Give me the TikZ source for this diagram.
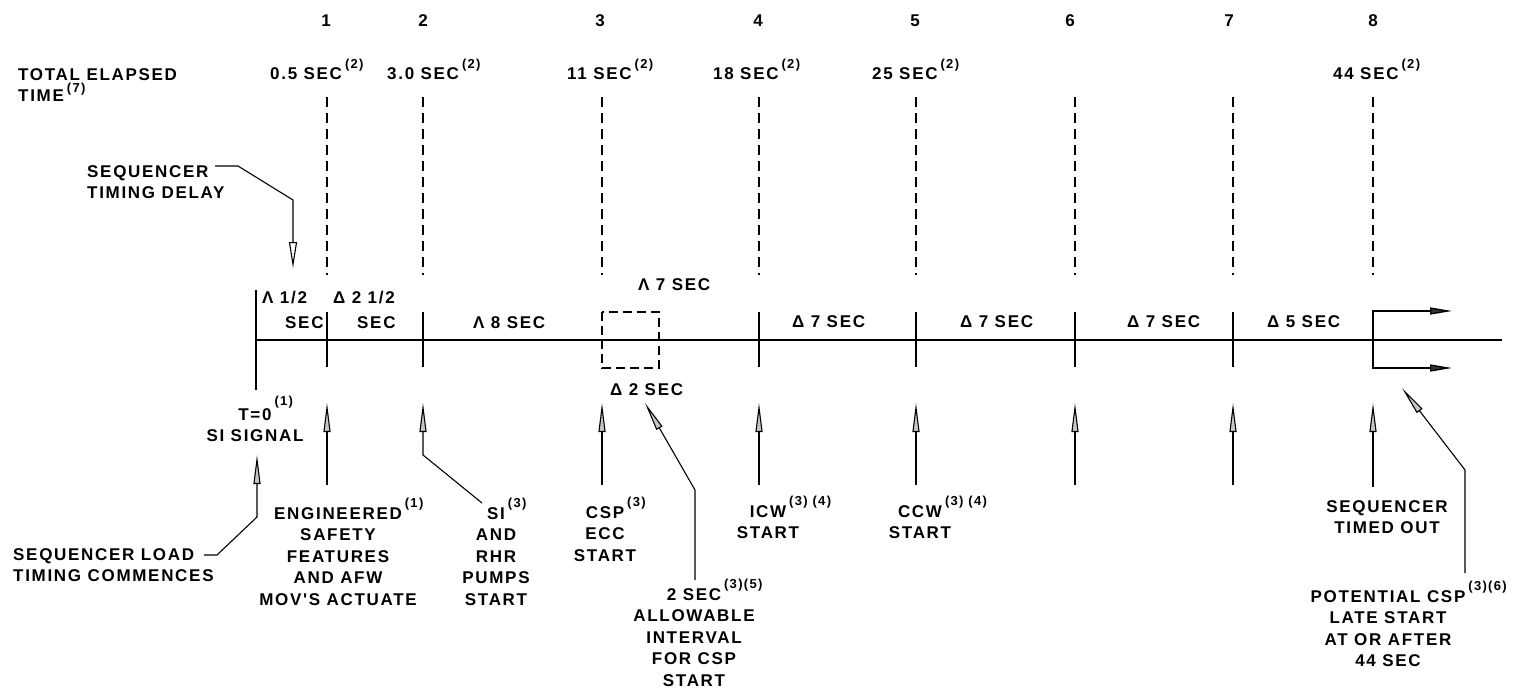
\documentclass[tikz,border=0pt]{standalone}
\usepackage{fontspec}
\newfontfamily\lbl[LetterSpace=10]{Liberation Sans}
\usetikzlibrary{arrows.meta}
\newcommand\lblfont{\lbl\bfseries\fontsize{17}{21.5}\selectfont}
\newcommand\sups[2][12pt]{\smash{\rlap{\kern3pt\raisebox{#1}{\fontsize{13}{13}\selectfont #2}}}}
\tikzset{
  txt/.style={font=\lblfont,inner sep=0pt,anchor=base west},
  num/.style={font=\lblfont,inner sep=0pt,anchor=base},
  blk/.style={font=\lblfont,inner sep=0pt,align=center,anchor=north},
  blkl/.style={font=\lblfont,inner sep=0pt,align=left,anchor=north west},
  evdash/.style={line width=1.1pt,dash pattern=on 10pt off 6pt},
  boxdash/.style={line width=1.1pt,dash pattern=on 9pt off 5pt},
  tick/.style={line width=1.3pt},
  axis/.style={line width=1.5pt},
  lead/.style={line width=1.1pt},
  uparrow/.style={line width=1.1pt,-{Triangle[length=29pt,width=7pt,fill=gray!45]}},
  downarrow/.style={line width=1.1pt,-{Triangle[open,length=26pt,width=8pt]}},
  outarrow/.style={line width=1.3pt,-{Triangle[length=22pt,width=7pt,fill=black!80]}}
}
\begin{document}
\begin{tikzpicture}[x=1pt,y=-1pt]
\useasboundingbox (0,0) rectangle (1520,693);

% event numbers
\foreach \x/\n in {326/1,423/2,600/3,758/4,915/5,1070/6,1229/7,1373/8}
  \node[num] (num\n) at (\x,27) {\n};

% left titles
\node[blkl] (total) at (18,68) {TOTAL ELAPSED\\TIME\sups[9pt]{(7)}};
\node[blkl] (seqdelay) at (87,165) {SEQUENCER\\TIMING DELAY};

% elapsed times
\node[txt] (el1) at (270,80) {0.5 SEC\sups{(2)}};
\node[txt] (el2) at (387,80) {3.0 SEC\sups{(2)}};
\node[txt] (el3) at (567,80) {11 SEC\sups{(2)}};
\node[txt] (el4) at (713,80) {18 SEC\sups{(2)}};
\node[txt] (el5) at (872,80) {25 SEC\sups{(2)}};
\node[txt] (el8) at (1333,80) {44 SEC\sups{(2)}};

% dashed event lines
\foreach \x/\n in {327/1,423/2,602/3,759/4,916/5,1075/6,1233/7,1373/8}{
  \coordinate (d\n a) at (\x,97);
  \coordinate (d\n b) at (\x,275);
  \draw[evdash] (d\n a) -- (d\n b);
}

% timeline
\coordinate (t0) at (256,340);
\coordinate (tend) at (1502,340);
\draw[axis] (t0) -- (tend);
\draw[tick] (256,290) -- (256,390);
\foreach \x in {327,423,759,916,1075,1233}
  \draw[tick] (\x,312) -- (\x,367);
\draw[boxdash] (602,312) rectangle (659,368);
\coordinate (b8) at (1373,340);
\coordinate (o8a) at (1452,311);
\coordinate (o8b) at (1452,368);
\draw[outarrow] (b8) |- (o8a);
\draw[outarrow] (b8) |- (o8b);

% interval labels
\node[txt] (iv1a) at (262,303) {Λ 1/2};
\node[txt] (iv1b) at (285,328) {SEC};
\node[txt] (iv2a) at (333,303) {Δ 2 1/2};
\node[txt] (iv2b) at (357,328) {SEC};
\node[txt] (iv3) at (473,328) {Λ 8 SEC};
\node[txt] (iv4) at (638,290) {Λ 7 SEC};
\node[txt] (iv4b) at (610,395) {Δ 2 SEC};
\node[txt] (iv5) at (792,327) {Δ 7 SEC};
\node[txt] (iv6) at (960,327) {Δ 7 SEC};
\node[txt] (iv7) at (1127,327) {Δ 7 SEC};
\node[txt] (iv8) at (1267,327) {Δ 5 SEC};

% sequencer timing delay leader
\coordinate (sd0) at (215,166);
\coordinate (sd1) at (293,268);
\draw[downarrow] (sd0) -- (238,166) -- (293,200) -- (sd1);

% bottom labels
\node[blk] (tzero) at (255,408) {T=0\sups[15pt]{(1)}\\SI SIGNAL};
\node[blkl] (seqload) at (13,548) {SEQUENCER LOAD\\TIMING COMMENCES};
\node[blk] (esf) at (338,507) {ENGINEERED\sups{(1)}\\SAFETY\\FEATURES\\AND AFW\\MOV'S ACTUATE};
\node[blk] (si) at (496,507) {SI\sups{(3)}\\AND\\RHR\\PUMPS\\START};
\node[blk] (csp) at (605,506) {CSP\sups{(3)}\\ECC\\START};
\node[blk] (icw) at (768,505) {ICW\sups{(3) (4)}\\START};
\node[blk] (ccw) at (920,505) {CCW\sups{(3) (4)}\\START};
\node[blk] (twosec) at (694,588) {2 SEC\sups{(3)(5)}\\ALLOWABLE\\INTERVAL\\FOR CSP\\START};
\node[blk] (seqout) at (1387,500) {SEQUENCER\\TIMED OUT};
\node[blk] (late) at (1388,590) {POTENTIAL CSP\sups{(3)(6)}\\LATE START\\AT OR AFTER\\44 SEC};

% upward arrows
\foreach \x/\n/\s in {327/1/485,602/3/485,759/4/485,916/5/485,1075/6/485,1233/7/485,1373/8/487}{
  \coordinate (a\n s) at (\x,\s);
  \coordinate (a\n t) at (\x,403);
  \draw[uparrow] (a\n s) -- (a\n t);
}
% T=0 leader
\coordinate (sl0) at (204,555);
\coordinate (a0t) at (257,455);
\draw[uparrow] (sl0) -- (217,555) -- (257,517) -- (a0t);
% SI leader
\coordinate (si0) at (482,503);
\coordinate (a2t) at (423,403);
\draw[uparrow] (si0) -- (423,455) -- (a2t);
% 2 sec leader
\coordinate (tw0) at (695,580);
\coordinate (twt) at (645,403);
\draw[uparrow] (tw0) -- (695,490) -- (twt);
% late csp leader
\coordinate (lt0) at (1465,573);
\coordinate (ltt) at (1402,388);
\draw[uparrow] (lt0) -- (1465,470) -- (ltt);
\end{tikzpicture}
\end{document}
